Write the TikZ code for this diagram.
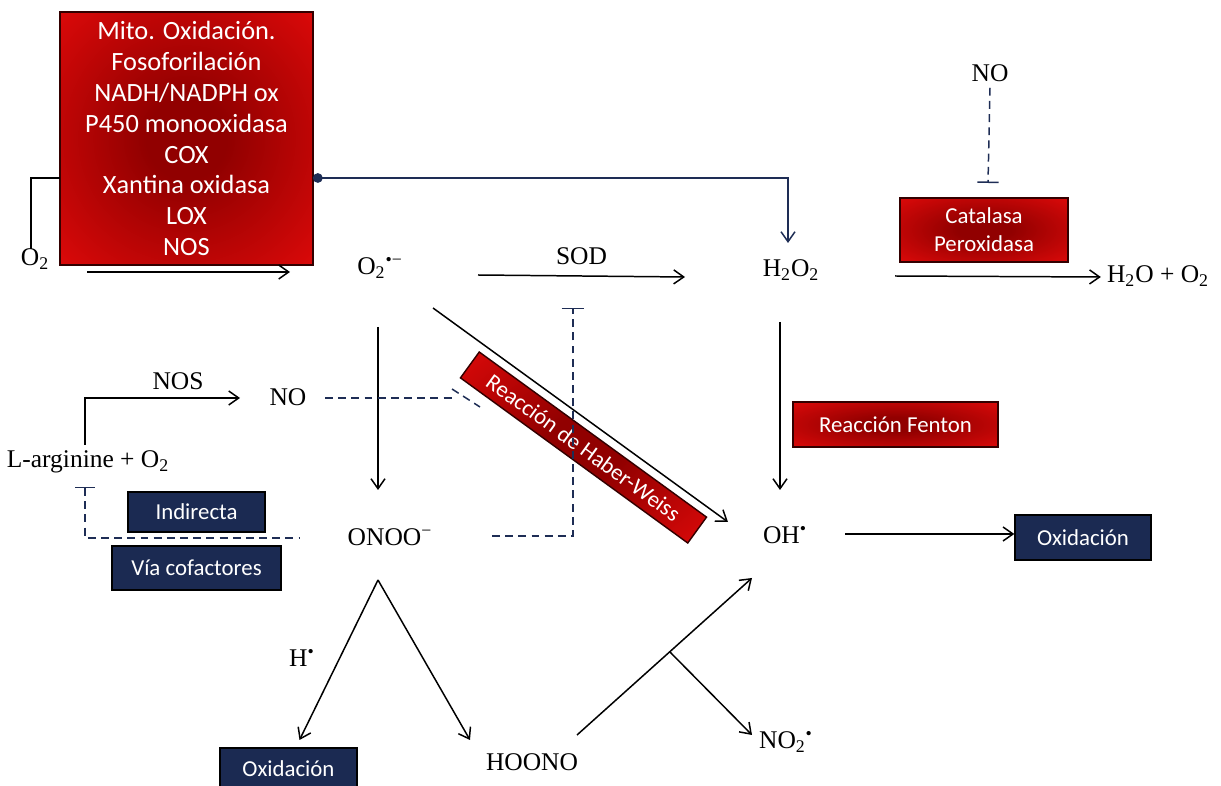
\documentclass[tikz,border=0pt]{standalone}
\usepackage{fontspec}
\setmainfont{Liberation Serif}
\newfontfamily\boxfont{Carlito}
\usetikzlibrary{arrows.meta,calc}
\definecolor{navy}{RGB}{30,45,85}
\definecolor{redlite}{RGB}{226,10,10}
\definecolor{reddark}{RGB}{145,0,0}
\definecolor{bluedark}{RGB}{27,42,82}
\definecolor{bluelite}{RGB}{62,86,136}
\pgfdeclareradialshading{redglow}{\pgfpoint{0bp}{0bp}}{color(0bp)=(reddark); color(8bp)=(reddark); color(38bp)=(redlite); color(70bp)=(redlite)}
\pgfdeclareradialshading{blueglow}{\pgfpoint{0bp}{0bp}}{color(0bp)=(bluedark); color(38bp)=(bluedark); color(52bp)=(bluelite); color(70bp)=(bluelite)}

\begin{document}
\begin{tikzpicture}[x=0.02cm, y=-0.02cm, >={Straight Barb[length=2mm,width=2.8mm]}, every node/.style={font=\fontsize{14.5}{17}\selectfont}, arr/.style={->, line width=0.85pt}, inhib/.style={navy, line width=0.85pt, dash pattern=on 4.5pt off 3pt}, redbox/.style={draw=reddark!35!black, line width=0.8pt, shading=redglow, text=white, align=center, font=\boxfont\fontsize{13}{16}\selectfont}, bluebox/.style={draw=black, line width=0.8pt, shading=blueglow, text=white, font=\boxfont\fontsize{13}{16}\selectfont}]
\useasboundingbox (0,0) rectangle (1221,786);
% sources and species
\node[redbox, minimum width=5.06cm, minimum height=5.06cm, font=\boxfont\fontsize{15}{17.6}\selectfont] (src) at (186.5,138.5) {Mito. Oxidación.\\Fosoforilación\\NADH/NADPH ox\\P450 monooxidasa\\COX\\Xantina oxidasa\\LOX\\NOS};
\node (o2) at (35,259) {O\textsubscript{2}};
\node (sup) at (380,268) {O\textsubscript{2}\textsuperscript{•−}};
\node (h2o2) at (791,270) {H\textsubscript{2}O\textsubscript{2}};
\node (noT) at (990,73) {NO};
\node[redbox, minimum width=3.36cm, minimum height=1.28cm] (cat) at (984,230) {Catalasa\\Peroxidasa};
\node (prod) at (1158,276) {H\textsubscript{2}O + O\textsubscript{2}};
\node[redbox, minimum width=4.1cm, minimum height=0.9cm] (fenton) at (895.5,424.5) {Reacción Fenton};
\node (oh) at (785,535) {OH\textsuperscript{•}};
\node[bluebox, minimum width=2.72cm, minimum height=0.9cm] (oxR) at (1083,537.5) {Oxidación};
\node[redbox, rotate=-36, minimum width=5.62cm, minimum height=0.64cm] (hw) at (583.5,447.5) {Reacción de Haber-Weiss};
\node (noL) at (288,397) {NO};
\node (larg) at (88,462) {L-arginine + O\textsubscript{2}};
\node[bluebox, minimum width=2.74cm, minimum height=0.8cm] (ind) at (196.5,512) {Indirecta};
\node[bluebox, minimum width=3.38cm, minimum height=0.88cm] (via) at (196.5,568) {Vía cofactores};
\node (onoo) at (390,537) {ONOO\textsuperscript{−}};
\node (hdot) at (302,658) {H\textsuperscript{•}};
\node[bluebox, minimum width=2.74cm, minimum height=0.84cm] (oxB) at (288.5,769) {Oxidación};
\node (hoono) at (532,762) {HOONO};
\node (no2) at (786,742) {NO\textsubscript{2}\textsuperscript{•}};
% reactions
\draw[line width=0.85pt] ($(o2)+(-4,-10)$) |- ($(src)+(-126.5,39.5)$);
\draw[arr] ($(o2)+(52,13)$) -- ($(sup)+(-90,4)$);
\draw[navy, line width=0.85pt, {Circle[length=5.5pt]}->] ($(src)+(126.5,39.5)$) -| ($(h2o2)+(-3,-27)$);
\draw[arr] ($(sup)+(98,7)$) -- node[above=2.5pt]{SOD} ($(h2o2)+(-106,7)$);
\draw[inhib, -{Bar[width=12pt]}] (noT.south) -- ($(noT)+(-2,110)$);
\draw[arr] ($(h2o2)+(104,6)$) -- ($(prod.west)+(0,1)$);
\draw[arr] ($(h2o2)+(-11,52)$) -- ($(oh)+(-5,-45)$);
\draw[arr] ($(oh)+(60,-1)$) -- ($(oxR.west)+(0,-3.5)$);
\draw[arr] ($(sup)+(53,40)$) -- ($(oh)+(-57,-13)$);
\draw[arr] ($(sup)+(-2,59)$) -- ($(onoo)+(-12,-47)$);
\draw[inhib] ($(noL)+(37,1)$) -- ($(noL)+(167,1)$);
\draw[inhib] ($(noL)+(164,-8)$) -- ($(noL)+(192,10)$);
\draw[inhib, -{Bar[width=13pt]}] ($(onoo)+(102,-1)$) -| ($(sup)+(193,40)$);
\draw[arr] ($(larg)+(-3,-17)$) |- node[pos=.8, above=1pt]{NOS} ($(noL)+(-48,1)$);
\draw[inhib, {Bar[width=11pt]}-] ($(larg)+(-3,25)$) |- ($(onoo)+(-90,1)$);
\draw[arr] ($(onoo)+(-12,43)$) -- ($(oxB)+(11,-29)$);
\draw[arr] ($(onoo)+(-12,43)$) -- ($(hoono)+(-62,-22)$);
\draw[arr] ($(hoono)+(45,-27)$) -- coordinate[pos=.53] (br) ($(oh)+(-33,43)$);
\draw[arr] (br) -- ($(no2)+(-34,-7)$);
\end{tikzpicture}
\end{document}
